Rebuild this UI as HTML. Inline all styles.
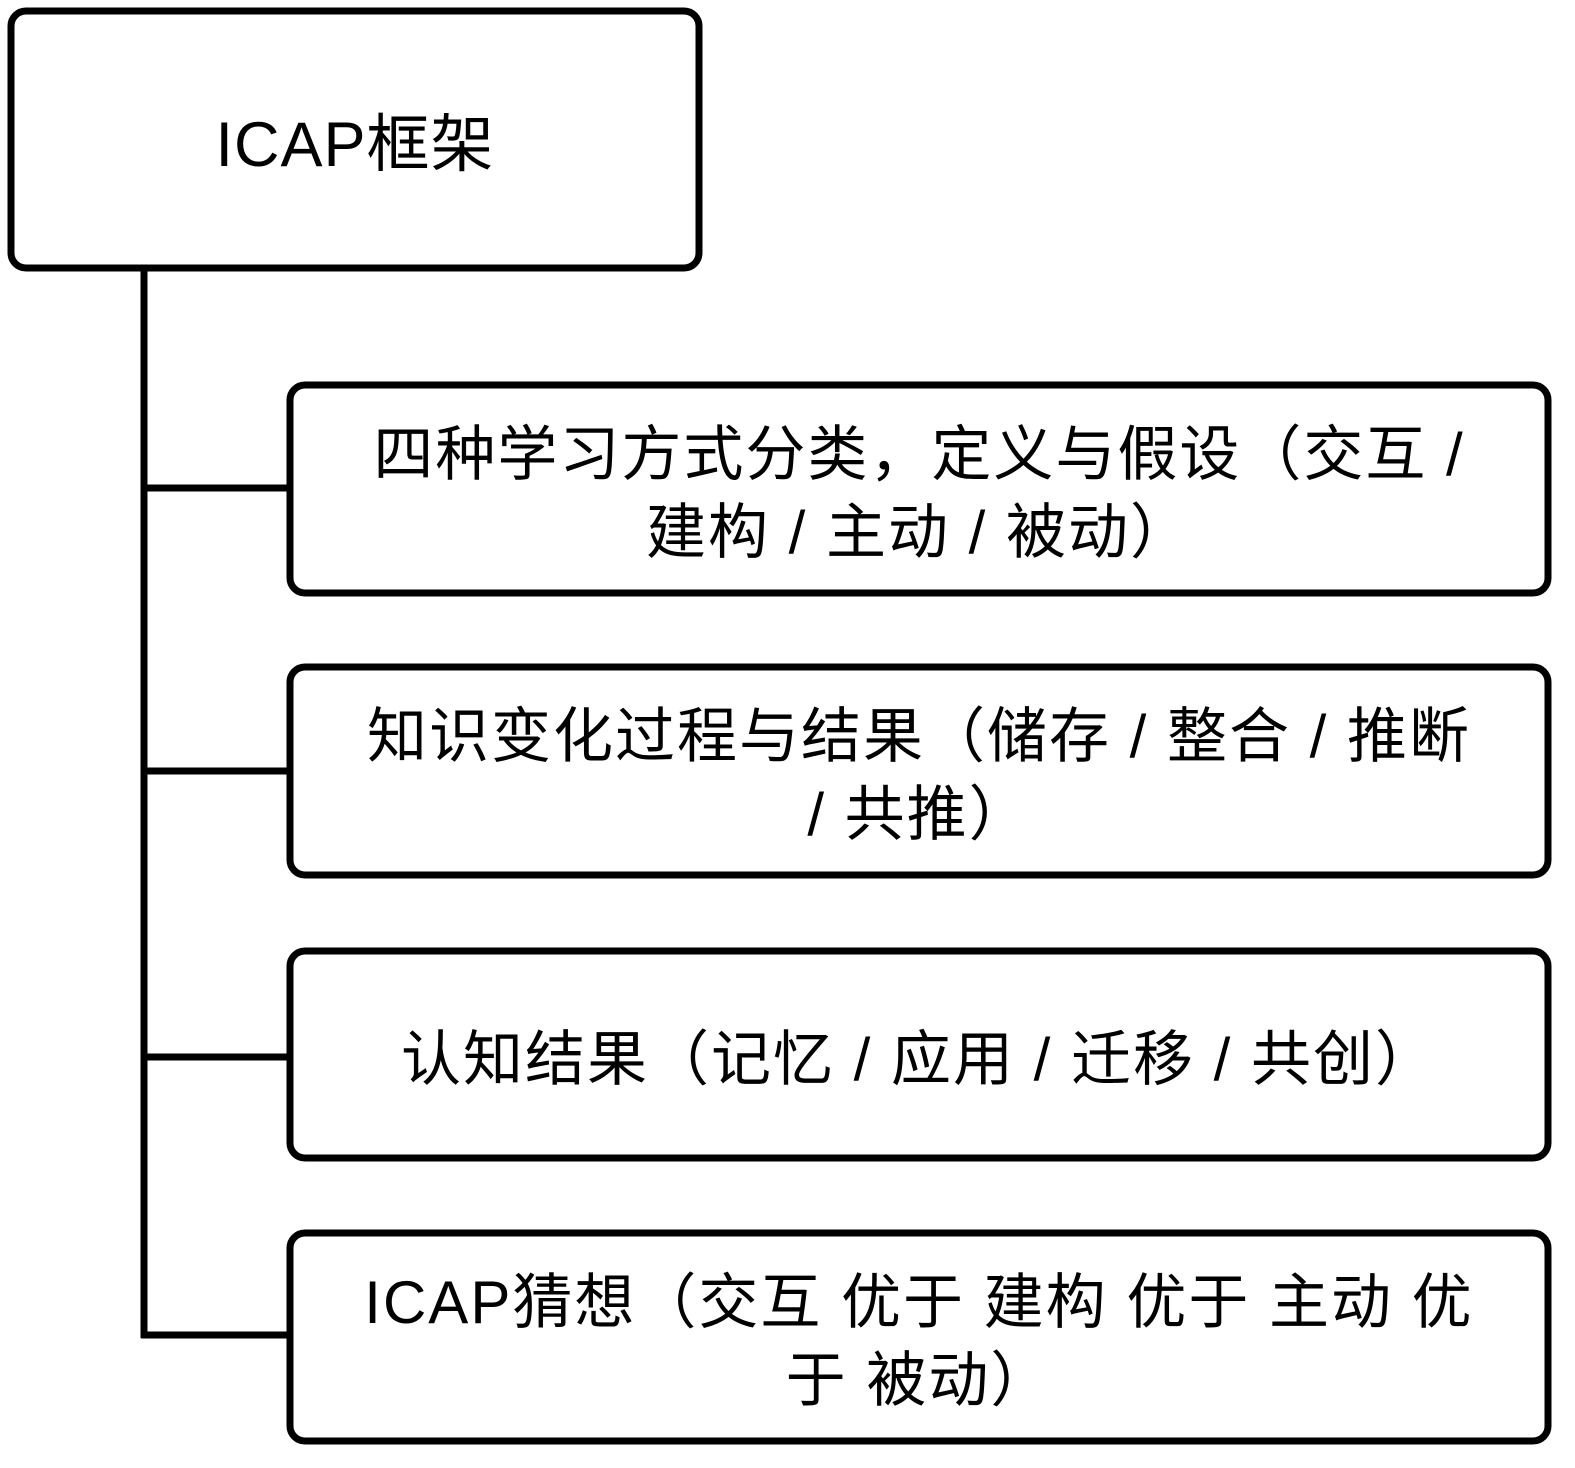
<!DOCTYPE html>
<html><head><meta charset="utf-8"><style>
html,body{margin:0;padding:0;background:#fff;}
body{width:1575px;height:1468px;position:relative;overflow:hidden;}
.t{position:absolute;display:flex;align-items:center;justify-content:center;text-align:center;font-family:"Liberation Sans","Noto Sans CJK SC",sans-serif;color:#000;font-size:60px;line-height:78px;letter-spacing:2px;box-sizing:border-box;padding-top:10px;}
</style></head><body>
<svg width="1575" height="1468" style="position:absolute;left:0;top:0" fill="none" stroke="#000" stroke-width="7">
<rect x="11" y="11" width="688" height="257" rx="15"/>
<line x1="144" y1="268" x2="144" y2="1338"/>
<line x1="141" y1="488" x2="290" y2="488"/>
<line x1="141" y1="771" x2="290" y2="771"/>
<line x1="141" y1="1057" x2="290" y2="1057"/>
<line x1="141" y1="1335" x2="290" y2="1335"/>
<rect x="290" y="385" width="1258" height="208" rx="15"/>
<rect x="290" y="667" width="1258" height="208" rx="15"/>
<rect x="290" y="951" width="1258" height="207" rx="15"/>
<rect x="290" y="1233" width="1258" height="208" rx="15"/>
</svg>
<div class="t" style="left:11px;top:11px;width:688px;height:257px;font-size:63px;letter-spacing:1px;">ICAP框架</div>
<div class="t" style="left:290px;top:385px;width:1258px;height:208px;">四种学习方式分类，定义与假设（交互 /<br>建构 / 主动 / 被动）</div>
<div class="t" style="left:290px;top:667px;width:1258px;height:208px;">知识变化过程与结果（储存 / 整合 / 推断<br>/ 共推）</div>
<div class="t" style="left:290px;top:951px;width:1258px;height:207px;">认知结果（记忆 / 应用 / 迁移 / 共创）</div>
<div class="t" style="left:290px;top:1233px;width:1258px;height:208px;">ICAP猜想（交互 优于 建构 优于 主动 优<br>于 被动）</div>
</body></html>
